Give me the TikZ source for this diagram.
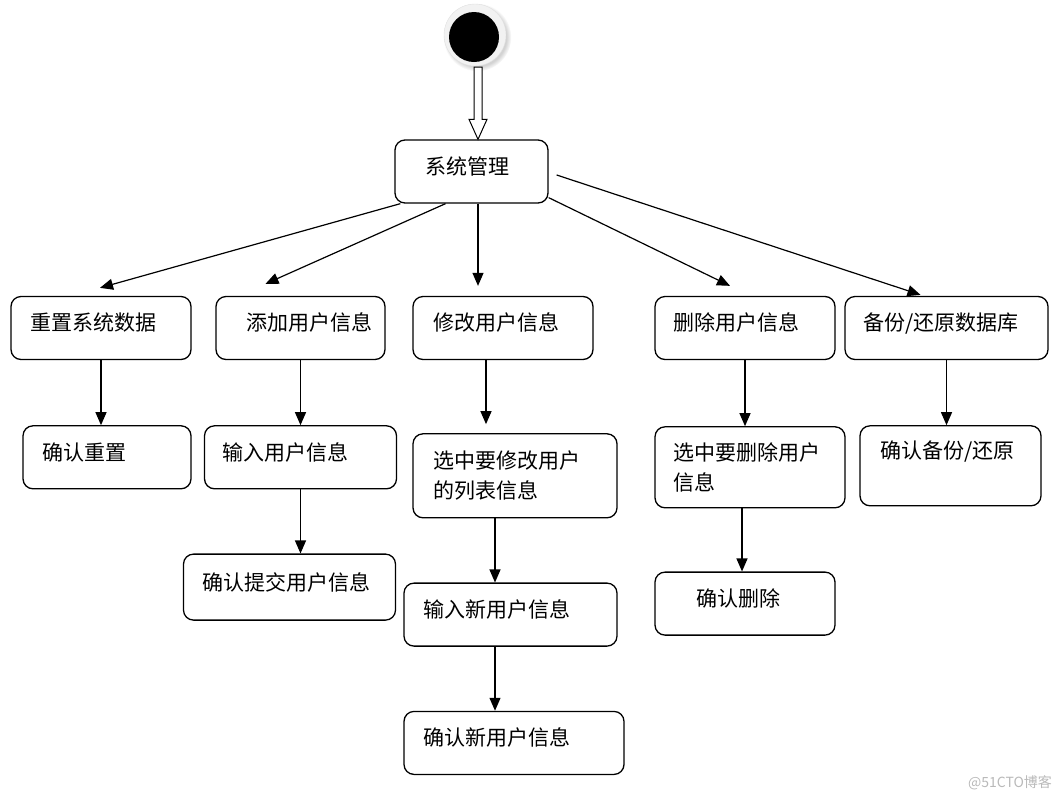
\documentclass[tikz,border=0pt]{standalone}
\usepackage{fontspec}
\newfontfamily\cjk{Noto Sans CJK SC}
\usetikzlibrary{positioning,arrows.meta,calc,shadows}

\begin{document}
\begin{tikzpicture}[x=1pt, y=-1pt, node distance=65pt,
	box/.style 2 args={draw, rounded corners=10pt, line width=1.3pt, align=left, inner xsep=#2, inner ysep=0pt, text width=#1-2*#2, minimum height=63pt, text depth=12pt, font=\cjk\fontsize{21}{30}\selectfont},
	flow/.style={-{Triangle[length=13pt,width=11pt]}, line width=1.2pt}]
	\useasboundingbox (0,0) rectangle (1064,801);

	% start
	\node[circle, fill=gray!10, draw=gray!25, minimum size=62pt, circular drop shadow={shadow xshift=2pt, shadow yshift=-2pt, opacity=.35}] (ring) at (475,35) {};
	\node[circle, fill=black, minimum size=50pt, inner sep=0pt] (start) at (474,37) {};

	\node[box={153pt}{30pt}] (sys) at (471.5,171.5) {系统管理};

	\node[box={180pt}{19pt}] (reset) at (101,328) {重置系统数据};
	\node[box={169pt}{30pt}] (add) at (300.5,328) {添加用户信息};
	\node[box={180pt}{20pt}] (modify) at (503,328) {修改用户信息};
	\node[box={180pt}{18pt}] (delete) at (745,328) {删除用户信息};
	\node[box={203pt}{18pt}] (backup) at (946.5,328) {备份/还原数据库};

	\node[box={168pt}{19pt}, below=of reset, xshift=6pt] (resetok) {确认重置};
	\node[box={192pt}{18pt}, below=of add] (input) {输入用户信息};
	\node[box={212pt}{19pt}, minimum height=66pt, below=64pt of input, xshift=-11pt] (submit) {确认提交用户信息};

	\node[box={204pt}{20pt}, minimum height=84pt, text depth={}, below=73pt of modify, xshift=12pt] (select) {选中要修改用户\\的列表信息};
	\node[box={213pt}{19pt}, below=64pt of select, xshift=-4.5pt] (newin) {输入新用户信息};
	\node[box={220pt}{19pt}, below=64pt of newin, xshift=3.5pt] (newok) {确认新用户信息};

	\node[box={190pt}{18pt}, minimum height=81pt, text depth={}, below=66pt of delete, xshift=5pt] (selectdel) {选中要删除用户\\信息};
	\node[box={180pt}{41pt}, below=63pt of selectdel, xshift=-5pt] (delok) {确认删除};

	\node[box={181pt}{20pt}, minimum height=80pt, text depth=32pt, below=of backup, xshift=4pt] (backupok) {确认备份/还原};

	\node[font=\cjk\fontsize{14}{14}\selectfont, text=gray!55] (mark) at (1010,783) {@51CTO博客};

	% hollow arrow
	\coordinate (a1) at (478,67);
	\coordinate (a2) at (a1 |- sys.north);
	\draw[line width=1pt, fill=white] ($(a1)+(-4,0)$) -- ($(a2)+(-4,-20)$) -- ($(a2)+(-9,-20)$) -- (a2) -- ($(a2)+(9,-20)$) -- ($(a2)+(4,-20)$) -- ($(a1)+(4,0)$) -- cycle;

	\draw[flow] ([xshift=6pt]sys.south west) -- ([xshift=-1pt,yshift=8pt]reset.north);
	\draw[flow] ([xshift=-26pt]sys.south) -- ([xshift=-35pt,yshift=12pt]add.north);
	\draw[flow] ([xshift=6.5pt]sys.south) -- ([xshift=-25pt,yshift=10pt]modify.north);
	\draw[flow] ([yshift=6pt]sys.south east) -- ([xshift=-15pt,yshift=10pt]delete.north);
	\draw[flow] ([xshift=8pt,yshift=-3.5pt]sys.east) -- ([xshift=-26pt,yshift=1pt]backup.north);

	\draw[flow] (reset) -- (reset |- resetok.north);
	\draw[flow] (add) -- (add |- input.north);
	\draw[flow] (input) -- (input |- submit.north);
	\draw[flow] ([xshift=-17pt]modify.south) -- ([xshift=-17pt,yshift=9pt]modify.south |- select.north);
	\draw[flow] ([xshift=-20pt]select.south) -- ([xshift=-20pt]select.south |- newin.north);
	\draw[flow] ([xshift=-15.5pt]newin.south) -- ([xshift=-15.5pt]newin.south |- newok.north);
	\draw[flow] (delete) -- (delete |- selectdel.north);
	\draw[flow] ([xshift=-8pt]selectdel.south) -- ([xshift=-8pt]selectdel.south |- delok.north);
	\draw[flow] (backup) -- (backup |- backupok.north);
\end{tikzpicture}
\end{document}
